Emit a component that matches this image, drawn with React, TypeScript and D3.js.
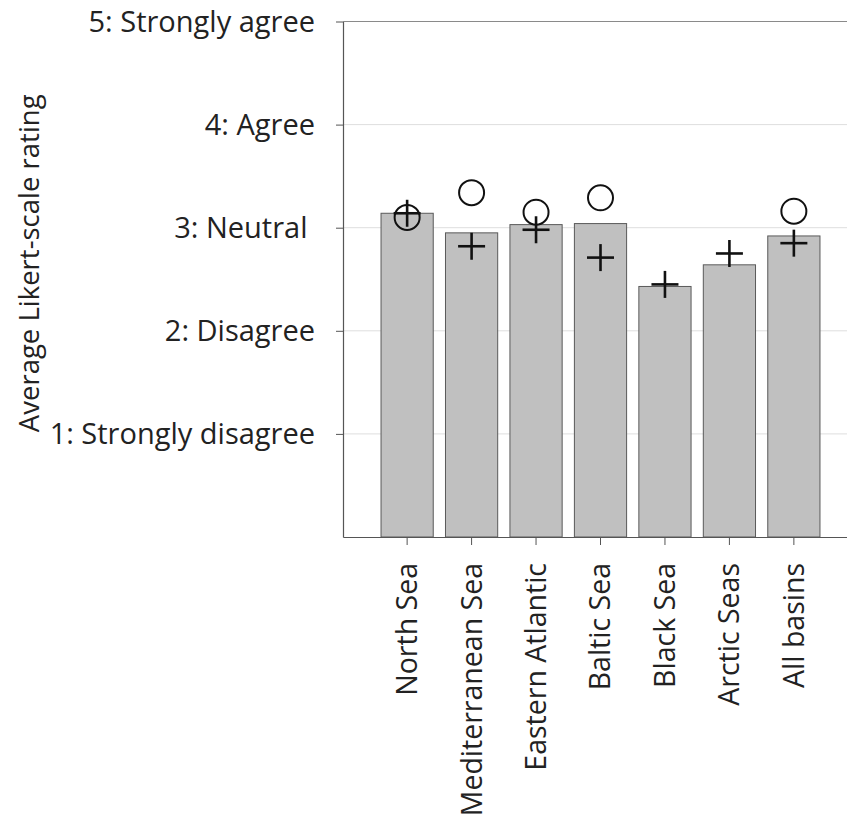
import { useEffect, useRef } from 'react'
import * as d3 from 'd3'

const categories = ['North Sea', 'Mediterranean Sea', 'Eastern Atlantic', 'Baltic Sea', 'Black Sea', 'Arctic Seas', 'All basins']
const barValues = [3.14, 2.95, 3.03, 3.04, 2.43, 2.64, 2.92]
const crossValues = [3.14, 2.82, 2.98, 2.71, 2.45, 2.75, 2.85]
const circleValues: (number | null)[] = [3.1, 3.34, 3.15, 3.29, null, null, 3.16]
const yTickValues = [1, 2, 3, 4, 5]
const yTickLabels = ['1: Strongly disagree', '2: Disagree', '3: Neutral ', '4: Agree', '5: Strongly agree']
const yTitle = 'Average Likert-scale rating'

export default function App() {
  const svgRef = useRef<SVGSVGElement>(null)

  useEffect(() => {
    if (!svgRef.current) return
    const width = 847
    const height = 817
    const left = 343
    const top = 21.5
    const bottom = 537
    const font = '"Open Sans", sans-serif'
    const textColor = '#222'

    const svg = d3.select(svgRef.current)
    svg.selectAll('*').remove()
    svg.attr('width', width).attr('height', height)

    const x = d3.scaleBand<string>().domain(categories).range([left, 858]).paddingInner(0.19).paddingOuter(0.59)
    const y = d3.scaleLinear().domain([0, 5]).range([bottom, top])

    // Grid
    svg.append('g')
      .selectAll('line')
      .data(yTickValues)
      .enter().append('line')
      .attr('x1', left).attr('x2', width)
      .attr('y1', d => y(d)).attr('y2', d => y(d))
      .attr('stroke', d => (d === 5 ? '#8a8a8a' : '#dedede'))
      .attr('stroke-width', 1)

    // Bars
    svg.append('g')
      .selectAll('rect')
      .data(categories)
      .enter().append('rect')
      .attr('x', d => x(d)!)
      .attr('width', x.bandwidth())
      .attr('y', (_, i) => y(barValues[i]))
      .attr('height', (_, i) => bottom - y(barValues[i]))
      .attr('fill', '#c0c0c0')
      .attr('stroke', '#5a5a5a')
      .attr('stroke-width', 1)

    const cx = (d: string) => x(d)! + x.bandwidth() / 2

    // Circles
    svg.append('g')
      .selectAll('circle')
      .data(categories.map((c, i) => ({ c, v: circleValues[i] })).filter(d => d.v !== null))
      .enter().append('circle')
      .attr('cx', d => cx(d.c))
      .attr('cy', d => y(d.v as number))
      .attr('r', 12.5)
      .attr('fill', 'none')
      .attr('stroke', '#111')
      .attr('stroke-width', 2)

    // Crosses
    const half = 13.5
    const crosses = svg.append('g')
      .selectAll('g')
      .data(categories)
      .enter().append('g')
      .attr('transform', (d, i) => `translate(${cx(d)},${y(crossValues[i])})`)
    crosses.append('line').attr('x1', -half).attr('x2', half).attr('y1', 0).attr('y2', 0)
      .attr('stroke', '#111').attr('stroke-width', 2.6)
    crosses.append('line').attr('x1', 0).attr('x2', 0).attr('y1', -half).attr('y2', half)
      .attr('stroke', '#111').attr('stroke-width', 2.6)

    // Axes
    svg.append('g')
      .attr('transform', `translate(${left},0)`)
      .call(d3.axisLeft(y).tickValues(yTickValues).tickFormat((_, i) => yTickLabels[i]).tickSize(7).tickSizeOuter(0).tickPadding(21))
      .call(ax => ax.select('.domain').attr('stroke', '#555').attr('stroke-width', 1.2))
      .call(ax => ax.selectAll('.tick line').attr('stroke', '#555'))
      .call(ax => ax.selectAll('.tick text')
        .attr('fill', textColor).attr('font-size', '29px').attr('font-family', font)
        .attr('dy', '0.34em').style('white-space', 'pre'))

    svg.append('g')
      .attr('transform', `translate(0,${bottom})`)
      .call(d3.axisBottom(x).tickSize(8).tickSizeOuter(0))
      .call(ax => ax.select('.domain').attr('stroke', '#555').attr('stroke-width', 1.2))
      .call(ax => ax.selectAll('.tick line').attr('stroke', '#555'))
      .call(ax => ax.selectAll('.tick text')
        .attr('fill', textColor).attr('font-size', '28.5px').attr('font-family', font)
        .attr('transform', 'rotate(-90)')
        .attr('text-anchor', 'end')
        .attr('x', -26).attr('y', 0).attr('dy', '0.35em'))

    // Y title
    svg.append('text')
      .attr('transform', `translate(29,${(top + 505) / 2}) rotate(-90)`)
      .attr('text-anchor', 'middle')
      .attr('dy', '0.35em')
      .attr('fill', textColor)
      .attr('font-size', '27.5px')
      .attr('font-family', font)
      .text(yTitle)
  }, [])

  return (
    <svg ref={svgRef} style={{ position: 'absolute', left: 0, top: 0, background: '#fff' }} />
  )
}
